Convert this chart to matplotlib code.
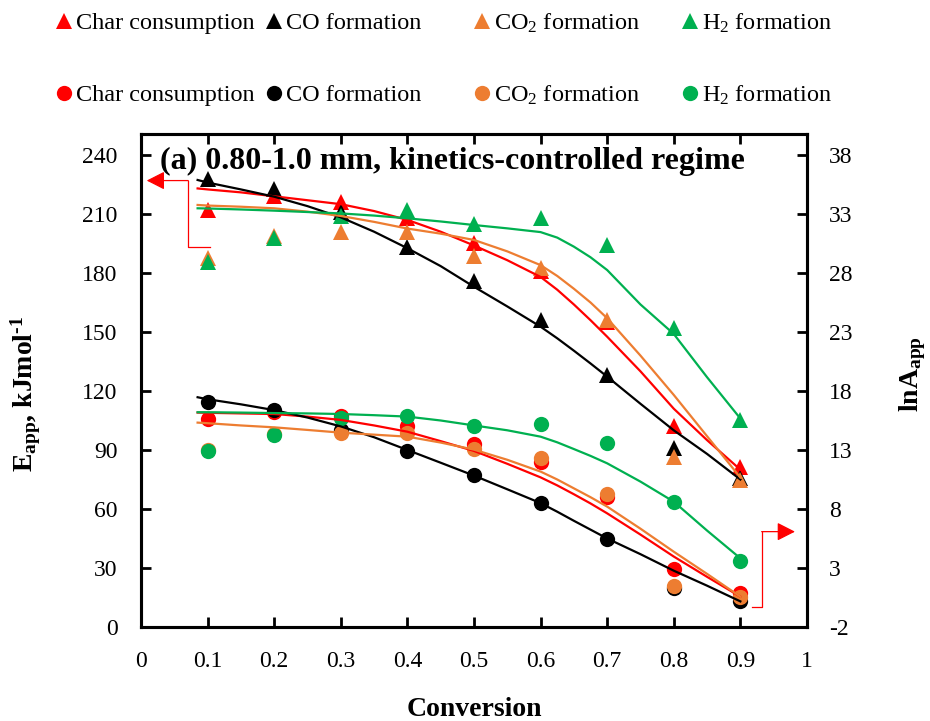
import matplotlib
matplotlib.use("Agg")
import matplotlib.pyplot as plt

plt.rcParams['font.family'] = ['Liberation Serif', 'DejaVu Serif']
plt.rcParams['mathtext.fontset'] = 'custom'
plt.rcParams['mathtext.rm'] = 'Liberation Serif'
plt.rcParams['mathtext.it'] = 'Liberation Serif:italic'
plt.rcParams['mathtext.bf'] = 'Liberation Serif:bold'
plt.rcParams['axes.unicode_minus'] = False

# conversion points for the measured values
conversion = [0.1, 0.2, 0.3, 0.4, 0.5, 0.6, 0.7, 0.8, 0.9]

# apparent activation energy, kJ/mol (triangles, left axis)
E_char = [212, 219, 216, 208, 195, 181, 155, 102, 81.5]
E_co = [228, 222.5, 211, 193.4, 176, 156, 128, 90.8, 76]
E_co2 = [187.5, 199, 201, 201, 188.6, 182.4, 156, 86.3, 74.7]
E_h2 = [185.8, 198, 209, 212, 205, 207.8, 194, 151.9, 105.3]

# lnA (circles, right axis)
lnA_char = [15.6, 16.25, 15.88, 15.03, 13.5, 12.02, 8.98, 2.88, 0.9]
lnA_co = [17.1, 16.38, 14.7, 12.95, 10.88, 8.53, 5.43, 1.28, 0.23]
lnA_co2 = [13.03, 14.33, 14.42, 14.42, 13.05, 12.35, 9.25, 1.47, 0.52]
lnA_h2 = [12.92, 14.27, 15.68, 15.88, 15.03, 15.2, 13.62, 8.62, 3.62]

# trend curves
fit_x = [0.085, 0.1, 0.15, 0.2, 0.25, 0.3, 0.35, 0.4, 0.45, 0.5,
         0.55, 0.6, 0.625, 0.65, 0.675, 0.7, 0.75, 0.8, 0.85, 0.9]
fitE_char = [223, 222.5, 221, 219, 217, 215, 211.5, 207, 201, 194,
             186.5, 178, 171.5, 164, 156, 147.6, 130, 111, 95, 80]
fitE_co = [227.3, 226, 222.5, 218.8, 214, 208.3, 201, 192.6, 183.5, 173,
           163, 152.7, 146.8, 140.5, 134, 127.3, 113.5, 100, 88, 75]
fitE_co2 = [214.6, 214.3, 213.7, 212.9, 211.2, 209, 206, 202.6, 200, 196.8,
            191, 184, 178.5, 172, 165, 157, 138, 118, 97, 76]
fitE_h2 = [212.9, 212.8, 212.3, 211.7, 211, 210.3, 209.2, 207.8, 206.2, 204.4,
           202.7, 200.8, 198, 193.4, 188, 181.5, 164, 149, 127, 106]

fitA_char = [16.17, 16.15, 16.1, 16.05, 15.83, 15.55, 15.08, 14.55, 13.75, 12.92,
             11.83, 10.68, 10.0, 9.25, 8.47, 7.63, 5.83, 3.97, 2.25, 0.57]
fitA_co = [17.47, 17.3, 16.87, 16.38, 15.75, 15.0, 14.08, 13.0, 11.92, 10.83,
           9.67, 8.5, 7.77, 7.0, 6.25, 5.5, 4.17, 2.77, 1.5, 0.17]
fitA_co2 = [15.32, 15.27, 15.08, 14.92, 14.7, 14.47, 14.3, 14.13, 13.63, 13.03,
            12.17, 11.17, 10.5, 9.75, 9.0, 8.2, 6.33, 4.38, 2.5, 0.57]
fitA_h2 = [16.2, 16.2, 16.17, 16.13, 16.1, 16.05, 15.95, 15.83, 15.5, 15.08,
           14.67, 14.13, 13.65, 13.08, 12.5, 11.87, 10.32, 8.62, 6.17, 3.82]

labels = ["Char consumption", "CO formation", "CO$_2$ formation", "H$_2$ formation"]
colors = ["#FF0000", "#000000", "#ED7D31", "#00B050"]

E_pts = [E_char, E_co, E_co2, E_h2]
A_pts = [lnA_char, lnA_co, lnA_co2, lnA_h2]
E_fit = [fitE_char, fitE_co, fitE_co2, fitE_h2]
A_fit = [fitA_char, fitA_co, fitA_co2, fitA_h2]

fig = plt.figure(figsize=(9.3, 7.21), dpi=100)
ax = fig.add_axes([0.1516, 0.1304, 0.7161, 0.6838])
ax2 = ax.twinx()

tri_handles = []
circ_handles = []
for i in range(4):
    h, = ax.plot(conversion, E_pts[i], linestyle='none', marker='^', ms=11,
                 mew=0, color=colors[i], zorder=2)
    tri_handles.append(h)
for i in range(4):
    ax.plot(fit_x, E_fit[i], color=colors[i], lw=1.6, zorder=3)

for i in range(4):
    h, = ax2.plot(conversion, A_pts[i], linestyle='none', marker='o', ms=11,
                  mew=0, color=colors[i], zorder=2)
    circ_handles.append(h)
for i in range(4):
    ax2.plot(fit_x, A_fit[i], color=colors[i], lw=1.6, zorder=3)

ax.set_xlim(0, 1)
ax.set_ylim(0, 250.7)
ax2.set_ylim(-2, -2 + 250.7 / 6)
ax.set_xticks([0, 0.1, 0.2, 0.3, 0.4, 0.5, 0.6, 0.7, 0.8, 0.9, 1])
ax.set_xticklabels(["0", "0.1", "0.2", "0.3", "0.4", "0.5", "0.6", "0.7", "0.8", "0.9", "1"])
ax.set_yticks(range(0, 241, 30))
ax2.set_yticks(range(-2, 39, 5))

ax.tick_params(axis='both', direction='in', length=7, width=2, labelsize=17)
ax.tick_params(axis='x', top=True, pad=17)
ax.tick_params(axis='y', pad=17)
ax2.tick_params(axis='y', direction='in', length=7, width=2, labelsize=17, pad=16)
for a in (ax, ax2):
    for s in a.spines.values():
        s.set_linewidth(2.2)

ax.set_xlabel("Conversion", fontsize=20, fontweight='bold')
ax.xaxis.set_label_coords(0.5, -0.142)
ax.set_ylabel("E$_{\\mathbf{app}}$, kJmol$^{\\mathbf{\u2010 1}}$", fontsize=20, fontweight='bold')
ax.yaxis.set_label_coords(-0.147, 0.473)
ax2.set_ylabel(r"lnA$_{\mathbf{app}}$", fontsize=20, fontweight='bold')
ax2.yaxis.set_label_coords(1.135, 0.513)

ax.text(0.028, 0.944, "(a) 0.80-1.0 mm, kinetics-controlled regime",
        transform=ax.transAxes, fontsize=23, fontweight='bold', ha='left', va='center')

# arrows telling which axis each marker set uses
ax.plot([0.1036, 0.071, 0.071], [193, 193, 227], color='red', lw=0.9, clip_on=False)
ax.annotate("", xy=(0.0086, 227), xytext=(0.071, 227),
            arrowprops=dict(arrowstyle='-|>,head_length=0.55,head_width=0.28',
                            color='red', lw=0.9, mutation_scale=20,
                            shrinkA=0, shrinkB=0))
ax2.plot([0.917, 0.932, 0.932], [-0.28, -0.28, 6.08], color='red', lw=0.9, clip_on=False)
ax2.annotate("", xy=(0.982, 6.08), xytext=(0.932, 6.08),
             arrowprops=dict(arrowstyle='-|>,head_length=0.55,head_width=0.28',
                             color='red', lw=0.9, mutation_scale=20,
                             shrinkA=0, shrinkB=0))

# legend entries laid out in fixed columns like the original
col_x = [0.0584, 0.2842, 0.5078, 0.7315]
for row_y, handles in [(0.968, tri_handles), (0.868, circ_handles)]:
    for i in range(4):
        fig.legend(handles=[handles[i]], labels=[labels[i]], loc='center left',
                   bbox_to_anchor=(col_x[i], row_y), frameon=False, borderpad=0,
                   borderaxespad=0, handlelength=0.8, handletextpad=0.1,
                   fontsize=17.5)

fig.savefig("out.png", dpi=100)
